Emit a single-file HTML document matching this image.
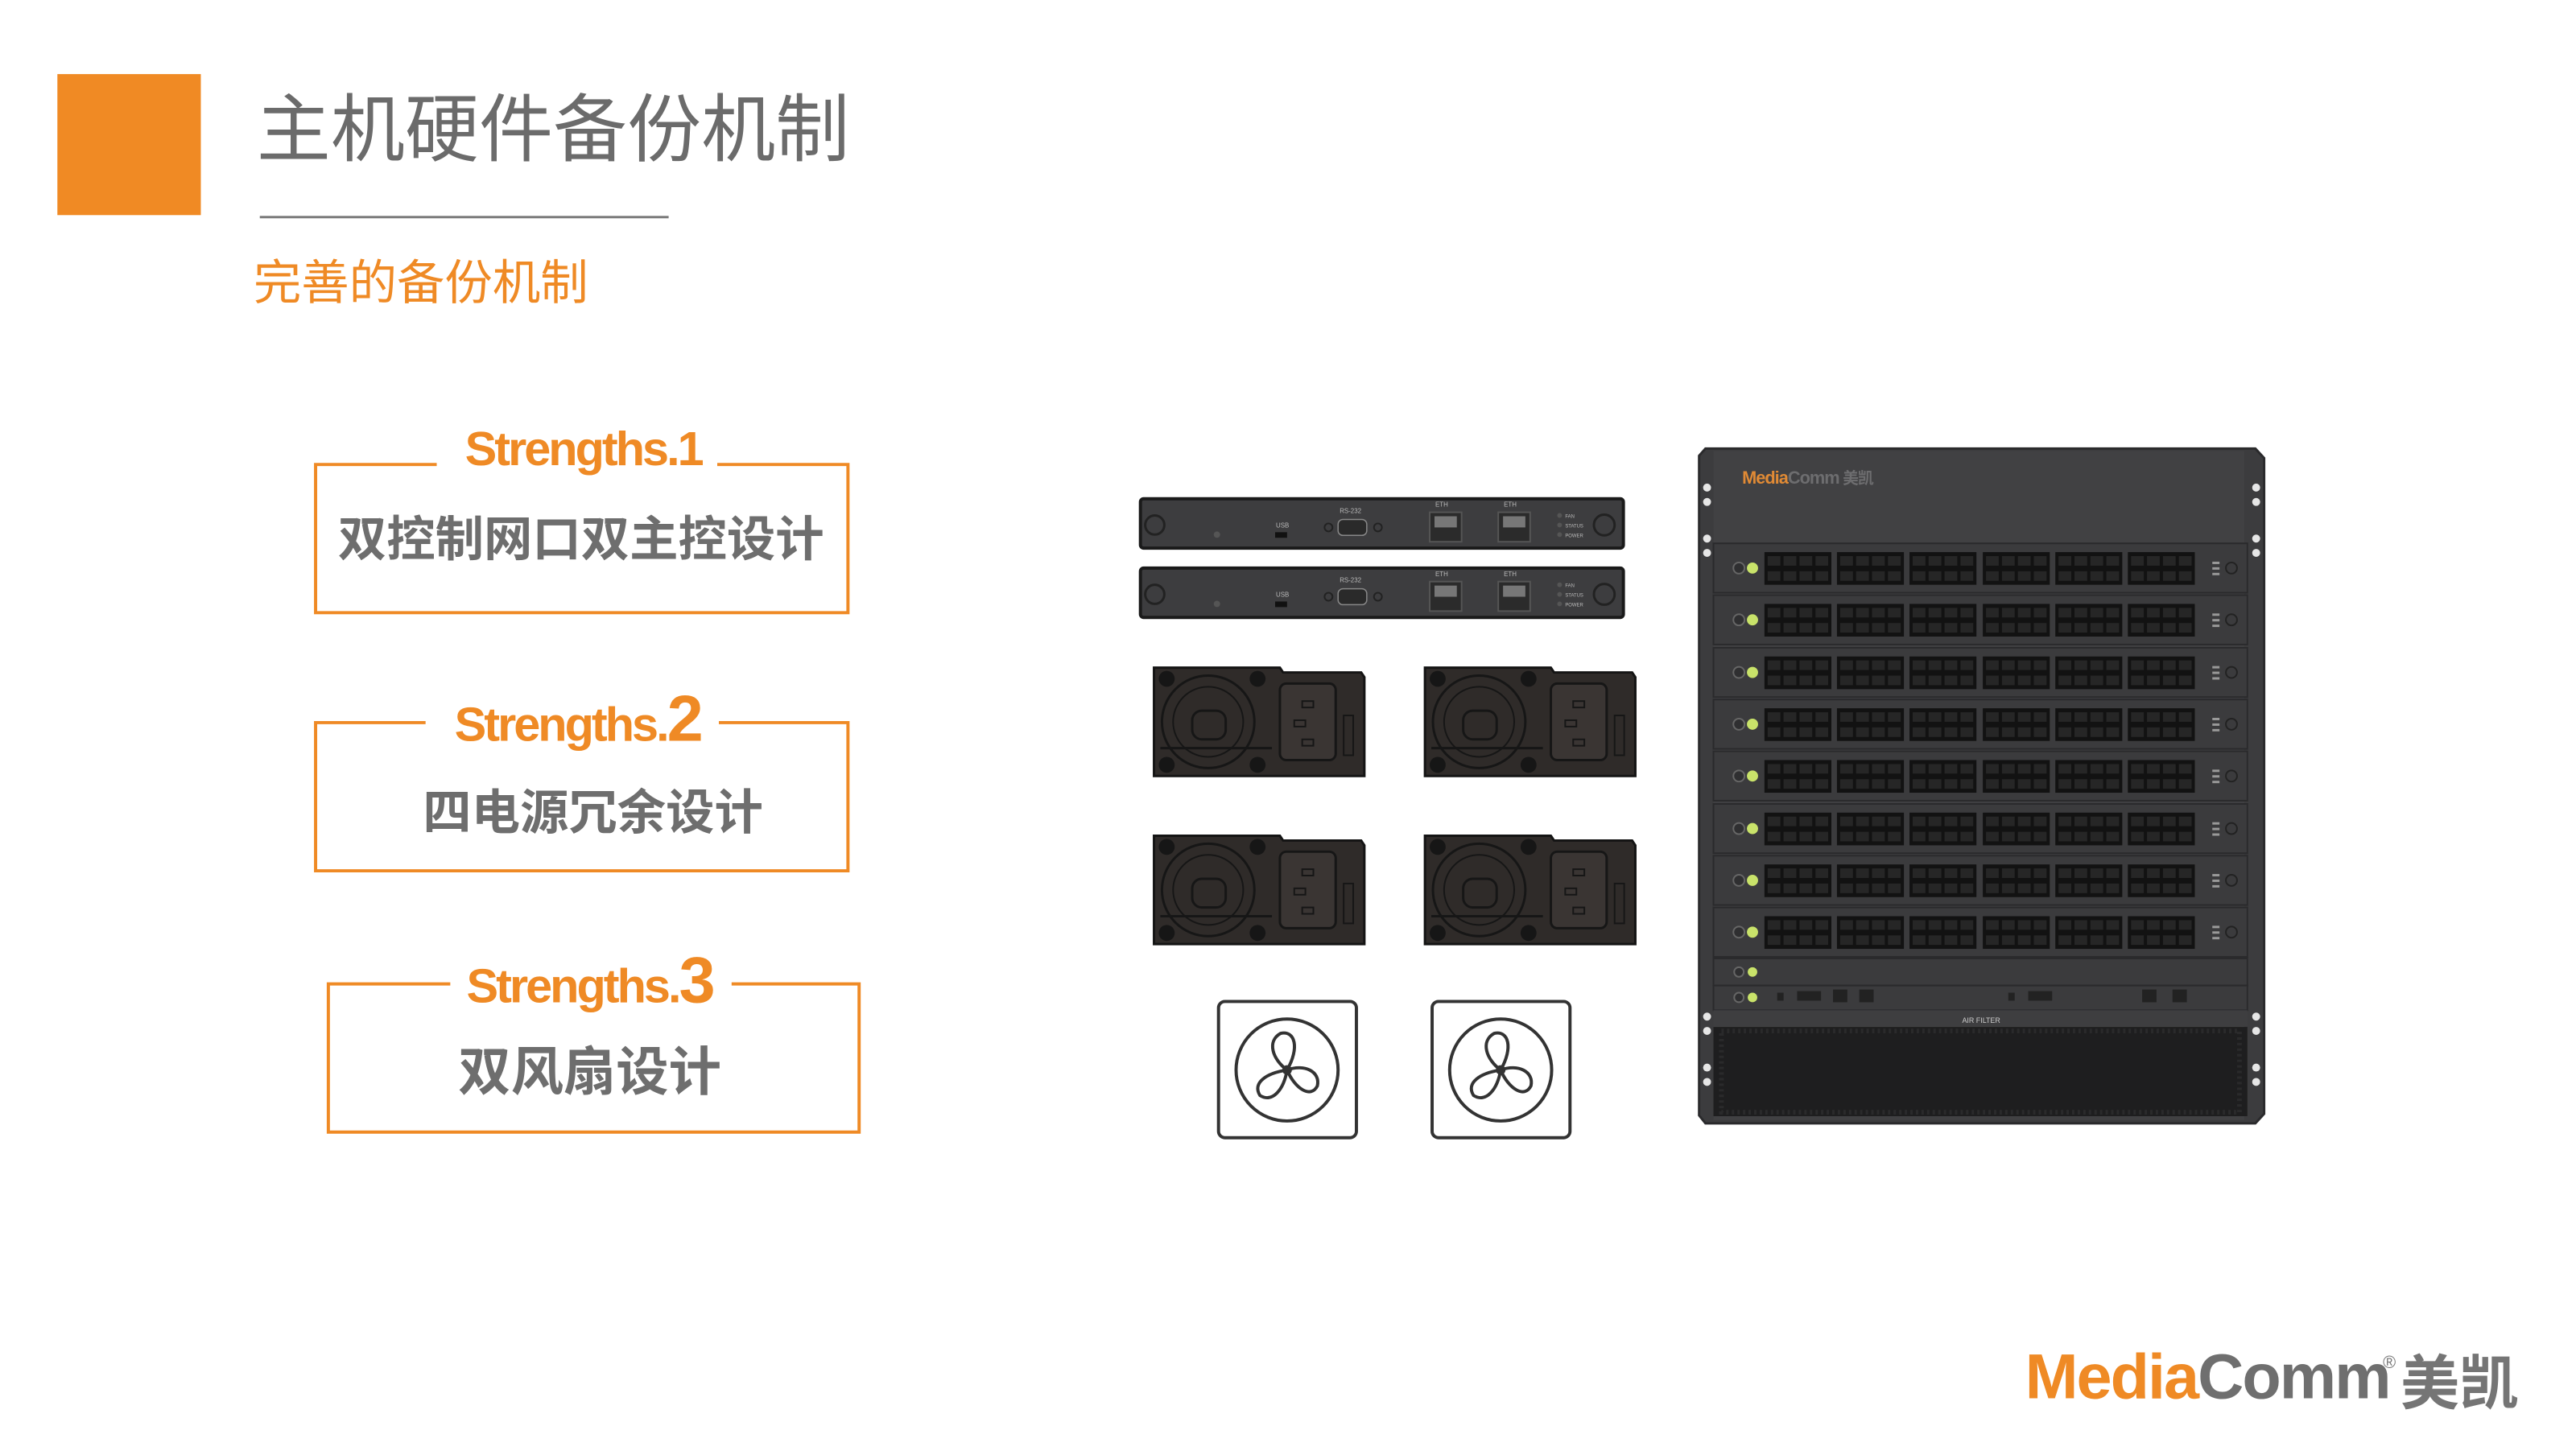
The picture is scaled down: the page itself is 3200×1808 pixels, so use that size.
<!DOCTYPE html>
<html><head><meta charset="utf-8"><style>
html,body{margin:0;padding:0;background:#fff;}
body{width:3200px;height:1808px;overflow:hidden;position:relative;font-family:"Liberation Sans","Noto Sans CJK SC",sans-serif;}
#wrap{position:absolute;left:0;top:0;width:3200px;height:1808px;transform:scale(0.99);transform-origin:0 0;}
.abs{position:absolute;}
</style></head><body><div id="wrap">
<div class="abs" style="left:72px;top:93px;width:180px;height:177px;background:#f08a24"></div>
<div class="abs" style="left:322px;top:108px;font-size:93px;line-height:110px;color:#6b6b6b;font-family:'Liberation Sans','Noto Sans CJK SC',sans-serif;white-space:nowrap">主机硬件备份机制</div>
<div class="abs" style="left:326px;top:271px;width:513px;height:3px;background:#7a7a7a"></div>
<div class="abs" style="left:318px;top:320px;font-size:60px;line-height:72px;color:#ef8a25;white-space:nowrap">完善的备份机制</div>

<svg class="abs" style="left:0;top:0" width="3200" height="1808" viewBox="0 0 3200 1808" xmlns="http://www.w3.org/2000/svg">
<defs>
<g id="blk">
  <rect x="0" y="0" width="84" height="41" fill="#121212"/>
  <g fill="#262626">
    <rect x="4" y="5" width="16" height="12"/><rect x="24" y="5" width="16" height="12"/><rect x="44" y="5" width="16" height="12"/><rect x="64" y="5" width="16" height="12"/>
    <rect x="4" y="24" width="16" height="12"/><rect x="24" y="24" width="16" height="12"/><rect x="44" y="24" width="16" height="12"/><rect x="64" y="24" width="16" height="12"/>
  </g>
</g>
<g id="card">
  <rect x="0" y="0" width="670" height="62" fill="#3b3b3d" stroke="#2a2a2c" stroke-width="2"/>
  <circle cx="32" cy="31" r="7" fill="#2f2f31" stroke="#666" stroke-width="2"/>
  <circle cx="49" cy="31" r="7" fill="#c9e36a"/>
  <use href="#blk" x="64" y="11"/><use href="#blk" x="155" y="11"/><use href="#blk" x="246" y="11"/>
  <use href="#blk" x="338" y="11"/><use href="#blk" x="429" y="11"/><use href="#blk" x="520" y="11"/>
  <rect x="626" y="23" width="9" height="3" fill="#999"/><rect x="626" y="30" width="9" height="3" fill="#999"/><rect x="626" y="37" width="9" height="3" fill="#999"/>
  <circle cx="650" cy="31" r="7" fill="none" stroke="#222" stroke-width="2"/>
</g>
<g id="ctrl">
  <rect x="0" y="0" width="606" height="62" rx="4" fill="#3d3d3f" stroke="#1a1a1a" stroke-width="4"/>
  <circle cx="18" cy="33" r="12" fill="none" stroke="#222" stroke-width="3"/>
  <circle cx="96" cy="45" r="4" fill="#555"/>
  <text x="170" y="36" font-size="8" fill="#bbb" font-family="Liberation Sans">USB</text>
  <rect x="169" y="42" width="15" height="7" fill="#111"/>
  <circle cx="236" cy="36" r="5" fill="none" stroke="#222" stroke-width="2"/>
  <text x="250" y="18" font-size="8" fill="#bbb" font-family="Liberation Sans">RS-232</text>
  <rect x="248" y="26" width="36" height="20" rx="6" fill="#2a2a2a" stroke="#888" stroke-width="1.5"/>
  <circle cx="298" cy="36" r="5" fill="none" stroke="#222" stroke-width="2"/>
  <text x="370" y="10" font-size="8" fill="#bbb" font-family="Liberation Sans">ETH</text>
  <rect x="363" y="17" width="40" height="37" fill="#2b2b2b" stroke="#555" stroke-width="2"/>
  <rect x="369" y="22" width="28" height="14" fill="#777"/>
  <text x="456" y="10" font-size="8" fill="#bbb" font-family="Liberation Sans">ETH</text>
  <rect x="449" y="17" width="40" height="37" fill="#2b2b2b" stroke="#555" stroke-width="2"/>
  <rect x="455" y="22" width="28" height="14" fill="#777"/>
  <circle cx="526" cy="21" r="3" fill="#555"/><circle cx="526" cy="33" r="3" fill="#555"/><circle cx="526" cy="45" r="3" fill="#555"/>
  <text x="533" y="24" font-size="6" fill="#bbb" font-family="Liberation Sans">FAN</text>
  <text x="533" y="36" font-size="6" fill="#bbb" font-family="Liberation Sans">STATUS</text>
  <text x="533" y="48" font-size="6" fill="#bbb" font-family="Liberation Sans">POWER</text>
  <circle cx="582" cy="33" r="13" fill="none" stroke="#222" stroke-width="3"/>
</g>
<g id="psu">
  <path d="M2 4 L160 4 L164 10 L262 10 L266 16 L266 140 L2 140 Z" fill="#2f2b29" stroke="#141414" stroke-width="3"/>
  <circle cx="70" cy="72" r="58" fill="none" stroke="#161616" stroke-width="3"/>
  <circle cx="70" cy="72" r="44" fill="none" stroke="#161616" stroke-width="2"/>
  <rect x="50" y="58" width="42" height="36" rx="12" fill="none" stroke="#161616" stroke-width="3"/>
  <circle cx="18" cy="18" r="10" fill="#161616"/><circle cx="132" cy="18" r="10" fill="#161616"/>
  <circle cx="18" cy="126" r="10" fill="#161616"/><circle cx="132" cy="126" r="10" fill="#161616"/>
  <path d="M10 105 L150 105" stroke="#161616" stroke-width="3"/>
  <rect x="160" y="24" width="70" height="96" rx="8" fill="#3a3533" stroke="#161616" stroke-width="3"/>
  <rect x="188" y="46" width="14" height="8" fill="none" stroke="#161616" stroke-width="2"/>
  <rect x="178" y="70" width="14" height="8" fill="none" stroke="#161616" stroke-width="2"/>
  <rect x="188" y="94" width="14" height="8" fill="none" stroke="#161616" stroke-width="2"/>
  <rect x="240" y="64" width="12" height="50" fill="none" stroke="#161616" stroke-width="2"/>
</g>
<g id="fan">
  <rect x="2" y="2" width="173" height="171" rx="8" fill="#fff" stroke="#333" stroke-width="4"/>
  <circle cx="88" cy="88" r="64" fill="none" stroke="#333" stroke-width="4"/>
  <g fill="none" stroke="#333" stroke-width="4" stroke-linejoin="round">
    <path d="M88 88 C70 75 62 52 80 42 C98 38 104 60 88 88 Z"/>
    <path d="M88 88 C110 80 130 90 126 108 C118 124 98 112 88 88 Z"/>
    <path d="M88 88 C84 112 70 130 54 120 C44 104 62 92 88 88 Z"/>
  </g>
  <circle cx="88" cy="88" r="6" fill="#333"/>
</g>
</defs>

<g fill="none" stroke="#ef8a25" stroke-width="4">
  <path d="M548 583 L396 583 L396 769 L1064 769 L1064 583 L900 583"/>
  <path d="M534 907 L396 907 L396 1093 L1064 1093 L1064 907 L902 907"/>
  <path d="M565 1235 L412 1235 L412 1421 L1078 1421 L1078 1235 L918 1235"/>
</g>
<g font-family="Liberation Sans" font-weight="bold" fill="#ef8a25" text-anchor="middle" letter-spacing="-3">
  <text x="732" y="584" font-size="60">Strengths.1</text>
  <text x="725" y="930" font-size="60">Strengths.<tspan font-size="82">2</tspan></text>
  <text x="740" y="1258" font-size="60">Strengths.<tspan font-size="82">3</tspan></text>
</g>
<g font-family="Liberation Sans,Noto Sans CJK SC,sans-serif" font-weight="bold" fill="#6e6e6e" text-anchor="middle">
  <text x="729" y="698" font-size="61">双控制网口双主控设计</text>
  <text x="744" y="1041" font-size="61">四电源冗余设计</text>
  <text x="740" y="1368" font-size="66">双风扇设计</text>
</g>

<use href="#ctrl" x="1431" y="626"/>
<use href="#ctrl" x="1431" y="713"/>
<use href="#psu" x="1446" y="834"/>
<use href="#psu" x="1786" y="834"/>
<use href="#psu" x="1446" y="1045"/>
<use href="#psu" x="1786" y="1045"/>
<use href="#fan" x="1527" y="1255"/>
<use href="#fan" x="1795" y="1255"/>

<path d="M2140 563 L2830 563 L2841 575 L2841 1398 L2830 1410 L2140 1410 L2132 1400 L2132 572 Z" fill="#3c3c3e" stroke="#2a2a2c" stroke-width="3"/>
<rect x="2150" y="566" width="666" height="840" fill="#414143"/>
<g fill="#e6e6e6">
  <circle cx="2142" cy="612" r="5"/><circle cx="2142" cy="630" r="5"/><circle cx="2142" cy="676" r="5"/><circle cx="2142" cy="694" r="5"/>
  <circle cx="2831" cy="612" r="5"/><circle cx="2831" cy="630" r="5"/><circle cx="2831" cy="676" r="5"/><circle cx="2831" cy="694" r="5"/>
  <circle cx="2142" cy="1276" r="5"/><circle cx="2142" cy="1294" r="5"/><circle cx="2142" cy="1340" r="5"/><circle cx="2142" cy="1358" r="5"/>
  <circle cx="2831" cy="1276" r="5"/><circle cx="2831" cy="1294" r="5"/><circle cx="2831" cy="1340" r="5"/><circle cx="2831" cy="1358" r="5"/>
</g>
<text x="2186" y="607" font-size="22" font-weight="bold" font-family="Liberation Sans,Noto Sans CJK SC,sans-serif" letter-spacing="-1"><tspan fill="#e08a35">Media</tspan><tspan fill="#6d6d6f">Comm</tspan><tspan fill="#6d6d6f" font-size="20"> 美凯</tspan></text>
<use href="#card" x="2150" y="682"/>
<use href="#card" x="2150" y="747"/>
<use href="#card" x="2150" y="813"/>
<use href="#card" x="2150" y="878"/>
<use href="#card" x="2150" y="943"/>
<use href="#card" x="2150" y="1009"/>
<use href="#card" x="2150" y="1074"/>
<use href="#card" x="2150" y="1139"/>
<rect x="2150" y="1203" width="670" height="34" fill="#3b3b3d" stroke="#2a2a2c" stroke-width="2"/>
<circle cx="2182" cy="1220" r="6" fill="#2f2f31" stroke="#666" stroke-width="2"/><circle cx="2199" cy="1220" r="6" fill="#c9e36a"/>
<rect x="2150" y="1237" width="670" height="31" fill="#3b3b3d" stroke="#2a2a2c" stroke-width="2"/>
<circle cx="2182" cy="1252" r="6" fill="#2f2f31" stroke="#666" stroke-width="2"/><circle cx="2199" cy="1252" r="6" fill="#c9e36a"/>
<g fill="#222"><rect x="2230" y="1246" width="8" height="10"/><rect x="2255" y="1244" width="30" height="12"/><rect x="2300" y="1242" width="18" height="16"/><rect x="2333" y="1242" width="18" height="16"/><rect x="2520" y="1246" width="8" height="10"/><rect x="2545" y="1244" width="30" height="12"/><rect x="2688" y="1242" width="18" height="16"/><rect x="2726" y="1242" width="18" height="16"/></g>
<rect x="2150" y="1268" width="670" height="20" fill="#3e3e40"/>
<text x="2486" y="1284" font-size="9" fill="#ccc" text-anchor="middle" font-family="Liberation Sans">AIR FILTER</text>
<rect x="2150" y="1289" width="670" height="112" fill="#1e1e1f"/>
<rect x="2160" y="1294" width="650" height="102" fill="none" stroke="#2a2a2b" stroke-width="6" stroke-dasharray="3 4"/>

<text x="2541" y="1755" font-family="Liberation Sans" font-weight="bold" font-size="80" letter-spacing="-2"><tspan fill="#ef8a25">Media</tspan><tspan fill="#6f6f6f">Comm</tspan></text>
<text x="2990" y="1717" font-family="Liberation Sans" font-size="22" fill="#757575">®</text>
<text x="3012" y="1762" font-family="Liberation Sans,Noto Sans CJK SC,sans-serif" font-weight="bold" font-size="74" fill="#757575">美凯</text>
</svg>
</div></body></html>
